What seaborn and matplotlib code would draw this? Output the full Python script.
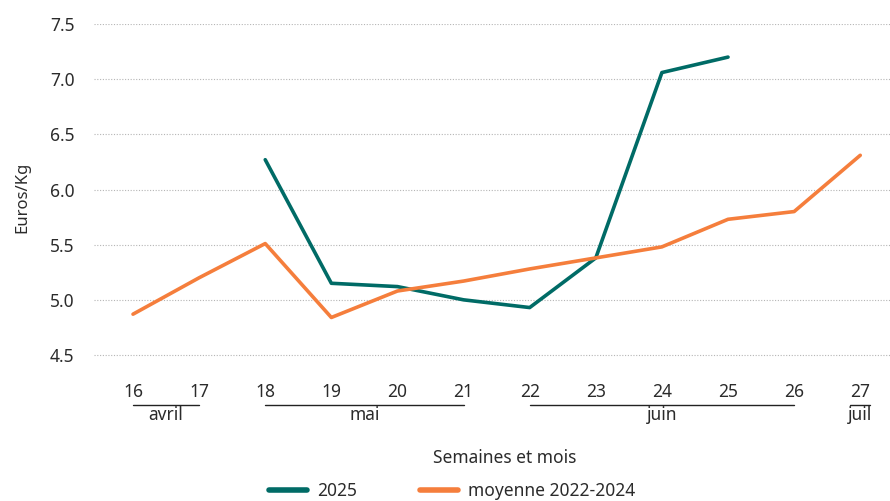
import matplotlib
matplotlib.use("Agg")
import matplotlib.pyplot as plt
import matplotlib.transforms as mtransforms
import seaborn as sns
import pandas as pd

weeks = list(range(16, 28))
weeks_2025 = [18, 19, 20, 21, 22, 23, 24, 25]
prix_2025 = [6.27, 5.15, 5.12, 5.00, 4.93, 5.38, 7.06, 7.20]
prix_moyenne = [4.87, 5.20, 5.51, 4.84, 5.08, 5.17, 5.28, 5.38, 5.48, 5.73, 5.80, 6.31]

months = ["avril", "mai", "juin", "juil"]
month_spans = [(16, 17), (18, 21), (22, 26), (27, 27)]

teal = "#006b66"
orange = "#f57e3c"
txt = "#2b2b2b"

sns.set_style("white")
plt.rcParams["font.family"] = ["Noto Sans", "DejaVu Sans"]

df_2025 = pd.DataFrame({"semaine": weeks_2025, "prix": prix_2025})
df_moy = pd.DataFrame({"semaine": weeks, "prix": prix_moyenne})

fig = plt.figure(figsize=(8.9, 5.01), dpi=100)
ax = fig.add_axes([94 / 890, (501 - 371) / 501, (890 - 94) / 890, (371 - 24) / 501])

sns.lineplot(data=df_2025, x="semaine", y="prix", ax=ax, color=teal, linewidth=2.6, label="2025")
sns.lineplot(data=df_moy, x="semaine", y="prix", ax=ax, color=orange, linewidth=2.6,
             label="moyenne 2022-2024")

ax.set_xlim(15.41, 27.45)
ax.set_ylim(4.355, 7.5)
ax.set_yticks([4.5, 5.0, 5.5, 6.0, 6.5, 7.0, 7.5])
ax.set_yticklabels([f"{v:.1f}" for v in [4.5, 5.0, 5.5, 6.0, 6.5, 7.0, 7.5]])
ax.set_xticks(weeks)
ax.set_xticklabels([str(w) for w in weeks])
ax.grid(axis="y", color="#b5b5b5", linestyle=(0, (1, 1.5)), linewidth=0.8)
ax.grid(axis="x", visible=False)
for s in ax.spines.values():
    s.set_visible(False)
ax.tick_params(axis="y", length=0, pad=14, labelsize=12.5, labelcolor=txt)
ax.tick_params(axis="x", direction="out", length=2.5, width=2.2, color="#222222",
               pad=6, labelsize=12.5, labelcolor=txt)

ax.set_xlabel("")
ax.set_ylabel("Euros/Kg", fontsize=12, color=txt, labelpad=14)

trans = mtransforms.blended_transform_factory(ax.transData, ax.transAxes)
for name, (a, b) in zip(months, month_spans):
    if a == b:
        x0, x1 = a - 0.15, b + 0.15
    else:
        x0, x1 = a, b
    ax.plot([x0, x1], [-0.098, -0.098], transform=trans, color="#222222",
            linewidth=1.0, clip_on=False)
    ax.text((a + b) / 2, -0.102, name, transform=trans, ha="center", va="top",
            fontsize=12.5, color=txt)

fig.text(505 / 890, 1 - 458 / 501, "Semaines et mois", ha="center", va="center",
         fontsize=12.5, color=txt)

ax.get_legend().remove()
handles, labels = ax.get_legend_handles_labels()
fig.legend(handles, labels, loc="center", bbox_to_anchor=(452 / 890, 1 - 491 / 501),
           ncol=2, frameon=False, fontsize=12.5, handlelength=2.2, handletextpad=0.6,
           columnspacing=3.6, labelcolor=txt, borderpad=0.1)
for line in fig.legends[0].get_lines():
    line.set_linewidth(4)

fig.savefig("out.png", dpi=100)
